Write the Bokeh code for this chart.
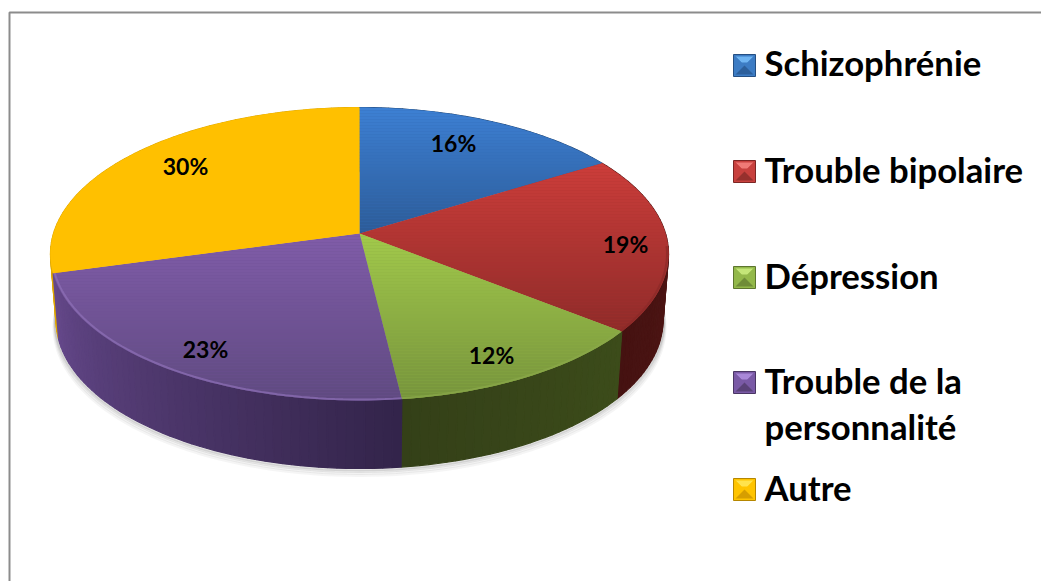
import math
from bokeh.plotting import figure
from bokeh.models import Range1d, ColumnDataSource
from bokeh.core.properties import value
from bokeh.embed import file_html
from bokeh.resources import INLINE

categories = ["Schizophrénie", "Trouble bipolaire", "Dépression", "Trouble de la personnalité", "Autre"]
slice_shares = [16.2, 19.5, 12.4, 22.6, 29.3]          # slice sizes as drawn in the picture
printed_labels = ["16%", "19%", "12%", "23%", "30%"]   # labels as printed on the picture
label_x = [453, 625, 491, 205, 185]
label_y = [142, 243, 354, 348, 165]
top_light = ["#3d80d4", "#cc3d3a", "#a2c94b", "#805ca9", "#ffc000"]
top_dark = ["#2c5b97", "#8e2b29", "#76933c", "#5f4a80", "#ffc000"]
side_start = ["#234a7a", "#5a1a18", "#3c4c1a", "#33244a", "#e0a800"]
side_end = ["#234a7a", "#451211", "#344018", "#66498c", "#e0a800"]
rim = ["#5b94dc", "#8a2a28", "#8aa84a", "#8e70b8", "#ffc000"]
leg_top = ["#6fb4f2", "#f07a76", "#c4e678", "#a988d8", "#ffe34d"]
leg_mid = ["#3d7cc4", "#c8413e", "#93b84a", "#7a5aa6", "#ffc400"]
leg_low = ["#2c5f9b", "#96302d", "#6f8c38", "#5a4278", "#d69e00"]
leg_edge = ["#254f82", "#7c2624", "#5d752f", "#4a3664", "#b58600"]
legend_lines = [["Schizophrénie"], ["Trouble bipolaire"], ["Dépression"], ["Trouble de la", "personnalité"], ["Autre"]]
legend_box_y = [54, 160, 266, 371, 478]
legend_base_y = [[62], [169], [275], [380, 426], [487]]

W, H = 1041, 581
CX, CY, A, B, K = 359, 233, 306, 143.6, 0.14
SHRINK, DROP = 0.982, 66


def top_pt(t, r=1.0):
    a = math.radians(t)
    u, v = r * math.sin(a), -r * math.cos(a)
    w = 1 - K * v
    return CX + A * u / w, CY + B * v / w


def low_pt(t):
    x, y = top_pt(t)
    return CX + SHRINK * (x - CX), y + DROP - 2 * math.cos(math.radians(t))


def hex2(c):
    return [int(c[i:i + 2], 16) for i in (1, 3, 5)]


def mix(c1, c2, f):
    f = max(0, min(1, f))
    a, b = hex2(c1), hex2(c2)
    return "#%02x%02x%02x" % tuple(round(a[i] + (b[i] - a[i]) * f) for i in range(3))


def clip(poly, y0, keep_below):
    out = []
    n = len(poly)
    for i in range(n):
        p, q = poly[i], poly[(i + 1) % n]
        pin = p[1] >= y0 if keep_below else p[1] <= y0
        qin = q[1] >= y0 if keep_below else q[1] <= y0
        if pin:
            out.append(p)
        if pin != qin:
            f = (y0 - p[1]) / (q[1] - p[1])
            out.append((p[0] + (q[0] - p[0]) * f, y0))
    return out


total = sum(slice_shares)
edges = [0]
for s in slice_shares:
    edges.append(edges[-1] + 360 * s / total)

p = figure(width=W, height=H, x_range=Range1d(0, W), y_range=Range1d(H, 0),
           output_backend="svg", toolbar_location=None, min_border=0)
p.axis.visible = False
p.grid.visible = False
p.outline_line_color = None
p.background_fill_color = "white"
p.border_fill_color = "white"

# frame
p.line([9, 9, W], [H, 12, 12], line_color="#8c8c8c", line_width=2)

# soft shadow under the pie
ts = [90 + i * 2 for i in range(92)]
for off, alpha in [(7, 0.05), (5, 0.07), (3, 0.10), (1.5, 0.14)]:
    p.line([low_pt(t)[0] + off * 0.3 * math.sin(math.radians(t)) for t in ts],
           [low_pt(t)[1] + off for t in ts],
           line_color="#404040", line_width=3, line_alpha=alpha)

# side wall
quads = []
for i in range(5):
    a0, a1 = edges[i], edges[i + 1]
    n = max(2, int((a1 - a0) / 1.5))
    for j in range(n):
        t0 = a0 + (a1 - a0) * j / n
        t1 = a0 + (a1 - a0) * (j + 1) / n
        pts = [top_pt(t0), top_pt(t1), low_pt(t1), low_pt(t0)]
        col = mix(side_start[i], side_end[i], (j + 0.5) / n)
        quads.append((-math.cos(math.radians((t0 + t1) / 2)), pts, col))
quads.sort(key=lambda q: q[0])
sq = ColumnDataSource(dict(xs=[[a[0] for a in q[1]] for q in quads],
                           ys=[[a[1] for a in q[1]] for q in quads],
                           c=[q[2] for q in quads]))
p.patches("xs", "ys", source=sq, fill_color="c", line_color="c", line_width=1.2)

# top face: each slice cut into horizontal bands for its vertical gradient
xs, ys, cs = [], [], []
for i in range(5):
    a0, a1 = edges[i], edges[i + 1]
    n = int((a1 - a0) / 1.5) + 2
    poly = [(CX, CY)] + [top_pt(a0 + (a1 - a0) * j / n) for j in range(n + 1)]
    ymin, ymax = min(q[1] for q in poly), max(q[1] for q in poly)
    p.patch([q[0] for q in poly], [q[1] for q in poly],
            fill_color=mix(top_light[i], top_dark[i], 0.5), line_color=None)
    y = ymin
    while y < ymax:
        band = clip(clip(poly, y, True), y + 3, False)
        if len(band) >= 3:
            xs.append([q[0] for q in band])
            ys.append([q[1] for q in band])
            cs.append(mix(top_light[i], top_dark[i], (y + 1.5 - ymin) / (ymax - ymin)))
        y += 3
p.patches("xs", "ys", source=ColumnDataSource(dict(xs=xs, ys=ys, c=cs)),
          fill_color="c", line_color=None)

# rim on the front edge
for i in range(5):
    a0, a1 = max(edges[i], 95), min(edges[i + 1], 265)
    if a1 <= a0:
        continue
    tt = [a0 + (a1 - a0) * j / 60 for j in range(61)]
    p.line([top_pt(t, 0.995)[0] for t in tt], [top_pt(t, 0.995)[1] for t in tt],
           line_color=rim[i], line_width=2, line_alpha=0.7)

# data labels
p.text(label_x, label_y, text=printed_labels, text_font=value("Lato"), text_font_style="bold",
       text_font_size="23px", text_color="black", text_align="center", text_baseline="alphabetic")

# legend keys
S, INSET = 22, 6
for i in range(5):
    x0, y0 = 733, legend_box_y[i]
    x1, y1 = x0 + S, y0 + S
    a, b = x0 + 2, y0 + 2
    c, d = x1 - 2, y1 - 2
    mx, my = (x0 + x1) / 2, (y0 + y1) / 2
    p.patch([x0, x1, x1, x0], [y0, y0, y1, y1], fill_color=leg_mid[i], line_color=leg_edge[i], line_width=1)
    p.patch([a, c, c - INSET, a + INSET], [b, b, b + INSET, b + INSET], fill_color=leg_top[i], line_color=None)
    p.patch([a, mx, a], [b, my, d], fill_color=leg_mid[i], line_color=None)
    p.patch([c, mx, c], [b, my, d], fill_color=leg_mid[i], line_color=None)
    p.patch([a, c, mx], [d, d, my], fill_color=leg_low[i], line_color=None)

# legend texts
for lines, bases in zip(legend_lines, legend_base_y):
    p.text([764] * len(lines), bases, text=lines, text_font=value("Lato"), text_font_style="bold",
           text_font_size="34.7px", text_color="black", text_align="left", text_baseline="alphabetic")

open("out.html", "w").write(file_html(p, INLINE))
